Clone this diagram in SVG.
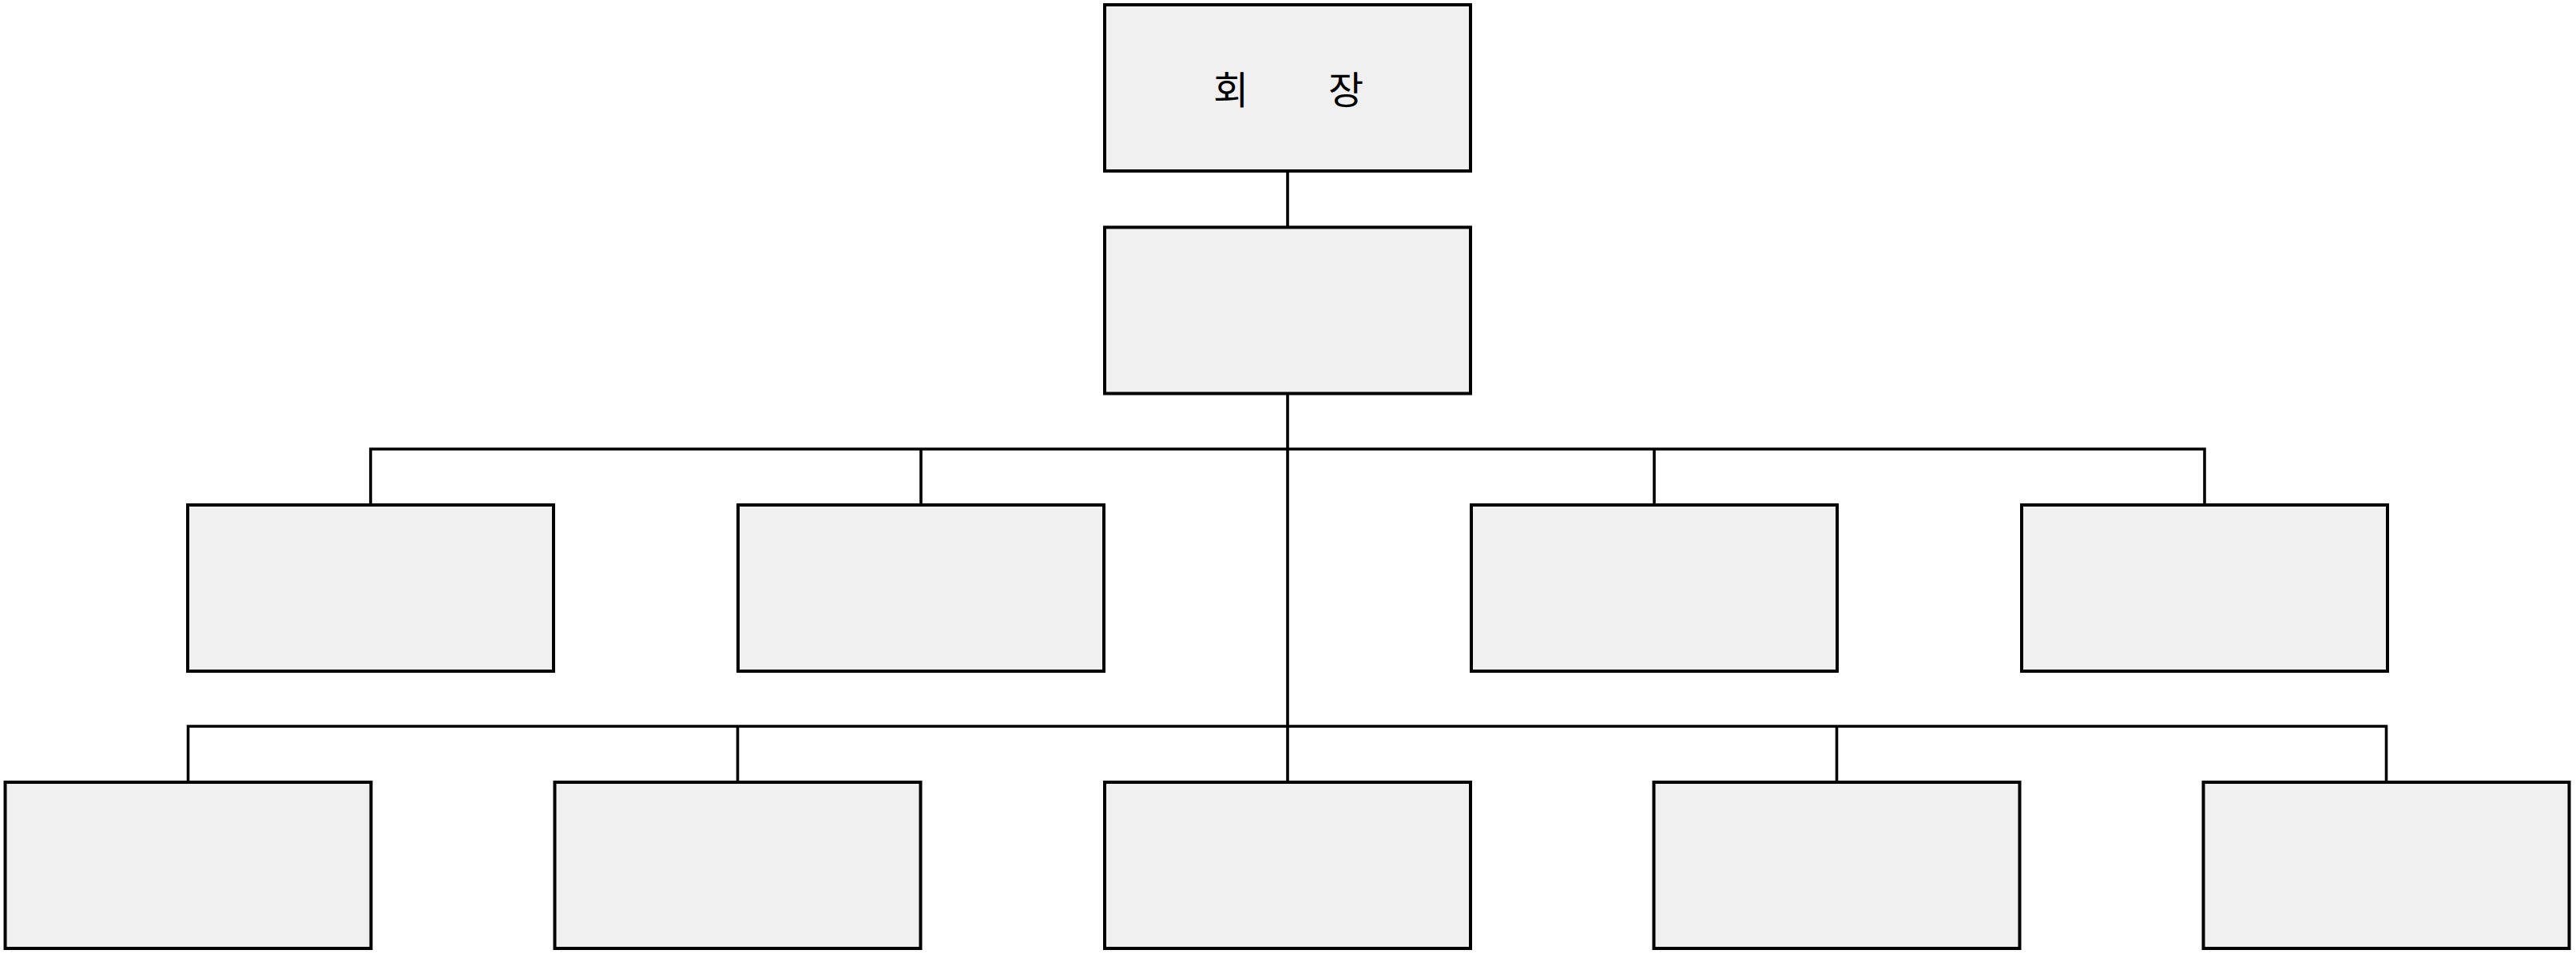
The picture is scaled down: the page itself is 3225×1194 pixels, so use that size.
<svg xmlns="http://www.w3.org/2000/svg" width="3225" height="1194" viewBox="0 0 3225 1194">
<style>
.box{fill:#f0f0f0;stroke:#000;stroke-width:4}
.con{fill:none;stroke:#000;stroke-width:3.6}
.lbl{font-family:"Noto Sans CJK KR","Noto Sans",sans-serif;font-size:48px;fill:#000}
</style>
<rect width="3225" height="1194" fill="#fff"/>
<g id="connectors">
<path class="con" d="M1612 214V284.5"/>
<path class="con" d="M1612 492.5V979"/>
<path class="con" d="M464 632V562H2760V632"/>
<path class="con" d="M1153 562V632M2071 562V632"/>
<path class="con" d="M235.5 979V909H2987.5V979"/>
<path class="con" d="M923.5 909V979M2299.5 909V979"/>
</g>
<g id="n-chairman"><rect class="box" x="1383" y="6" width="458" height="208"/>
<text class="lbl"><tspan x="1541" y="130" text-anchor="middle">회</tspan><tspan x="1685" y="130" text-anchor="middle">장</tspan></text></g>
<g id="n-level1"><rect class="box" x="1383" y="284.5" width="458" height="208"/></g>
<g id="n-r2-1"><rect class="box" x="235" y="632" width="458" height="208"/></g>
<g id="n-r2-2"><rect class="box" x="924" y="632" width="458" height="208"/></g>
<g id="n-r2-3"><rect class="box" x="1842" y="632" width="458" height="208"/></g>
<g id="n-r2-4"><rect class="box" x="2531" y="632" width="458" height="208"/></g>
<g id="n-r3-1"><rect class="box" x="6.5" y="979" width="458" height="208"/></g>
<g id="n-r3-2"><rect class="box" x="694.5" y="979" width="458" height="208"/></g>
<g id="n-r3-3"><rect class="box" x="1383" y="979" width="458" height="208"/></g>
<g id="n-r3-4"><rect class="box" x="2070.5" y="979" width="458" height="208"/></g>
<g id="n-r3-5"><rect class="box" x="2758.5" y="979" width="458" height="208"/></g>
</svg>
